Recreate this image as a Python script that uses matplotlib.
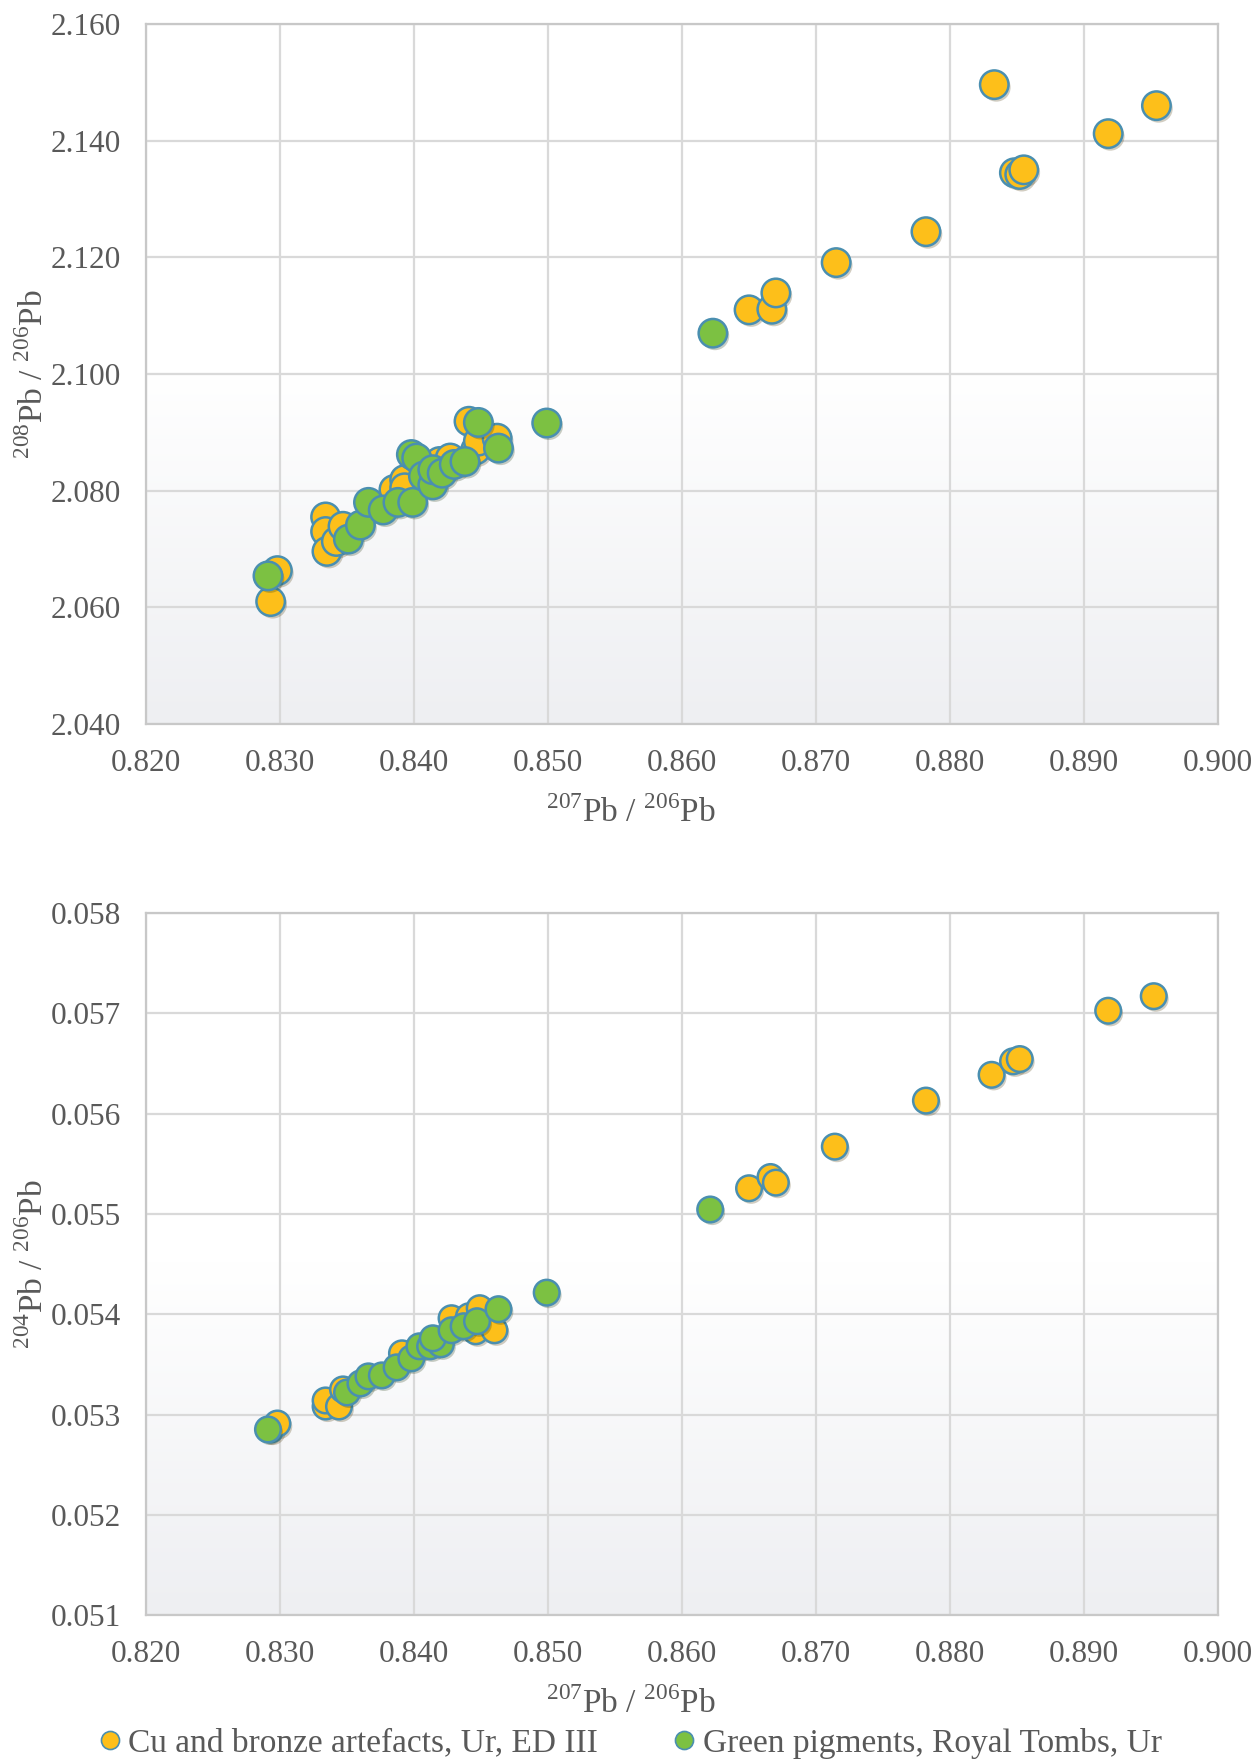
import numpy as np
import matplotlib
matplotlib.use("Agg")
import matplotlib.pyplot as plt
import matplotlib.patheffects as pe
from matplotlib.colors import LinearSegmentedColormap
from matplotlib.lines import Line2D

# Cu and bronze artefacts, Ur, ED III  (207Pb/206Pb, 208Pb/206Pb)
cu_x_top = [0.8293, 0.8298, 0.8334, 0.8334, 0.8335, 0.8342, 0.8347, 0.8385, 0.8393, 0.8393,
            0.8419, 0.8427, 0.8441, 0.8446, 0.8448, 0.8462, 0.8650, 0.8667, 0.8670, 0.8715,
            0.8782, 0.8833, 0.8848, 0.8852, 0.8855, 0.8918, 0.8954]
cu_y208 = [2.0610, 2.0663, 2.0755, 2.0730, 2.0696, 2.0713, 2.0739, 2.0802, 2.0819, 2.0805,
           2.0850, 2.0856, 2.0919, 2.0870, 2.0885, 2.0890, 2.1110, 2.1111, 2.1139, 2.1191,
           2.1244, 2.1496, 2.1345, 2.1342, 2.1350, 2.1412, 2.1460]

# Green pigments, Royal Tombs, Ur  (207Pb/206Pb, 208Pb/206Pb)
gp_x_top = [0.8291, 0.8351, 0.8360, 0.8366, 0.8377, 0.8388, 0.8399, 0.8398, 0.8402, 0.8407,
            0.8414, 0.8414, 0.8421, 0.8430, 0.8438, 0.8448, 0.8463, 0.8499, 0.8623]
gp_y208 = [2.0654, 2.0717, 2.0741, 2.0780, 2.0767, 2.0780, 2.0780, 2.0862, 2.0856, 2.0825,
           2.0810, 2.0836, 2.0830, 2.0845, 2.0850, 2.0917, 2.0873, 2.0916, 2.1070]

# (207Pb/206Pb, 204Pb/206Pb)
cu_x_bot = [0.8293, 0.8298, 0.8334, 0.8334, 0.8344, 0.8347, 0.8391, 0.8428, 0.8441, 0.8449,
            0.8446, 0.8460, 0.8650, 0.8666, 0.8670, 0.8714, 0.8782, 0.8831, 0.8847, 0.8852,
            0.8918, 0.8952]
cu_y204 = [0.05285, 0.05291, 0.05308, 0.05314, 0.05308, 0.05325, 0.05361, 0.05396, 0.05398, 0.05406,
           0.05383, 0.05384, 0.055256, 0.055368, 0.055312, 0.055671, 0.056130, 0.056387, 0.056522, 0.056544,
           0.057026, 0.057171]

gp_x_bot = [0.8291, 0.8350, 0.8360, 0.8366, 0.8376, 0.8387, 0.8398, 0.8404, 0.8412, 0.8420,
            0.8414, 0.8428, 0.8437, 0.8447, 0.8463, 0.8499, 0.8621]
gp_y204 = [0.052851, 0.05322, 0.05331, 0.05338, 0.05339, 0.05347, 0.05356, 0.05368, 0.05368, 0.05370,
           0.05376, 0.05384, 0.05388, 0.05393, 0.05405, 0.054215, 0.055044]

x_ticks = [0.820, 0.830, 0.840, 0.850, 0.860, 0.870, 0.880, 0.890, 0.900]
y208_ticks = [2.040, 2.060, 2.080, 2.100, 2.120, 2.140, 2.160]
y204_ticks = [0.051, 0.052, 0.053, 0.054, 0.055, 0.056, 0.057, 0.058]

labels = ["Cu and bronze artefacts, Ur, ED III", "Green pigments, Royal Tombs, Ur"]

yellow = "#FDBF1A"
green = "#7CC142"
edge = "#4A8FB0"
grey_txt = "#595959"

plt.rcParams['font.family'] = ['Liberation Serif', 'DejaVu Serif']
plt.rcParams['mathtext.fontset'] = 'custom'
plt.rcParams['mathtext.rm'] = 'Liberation Serif'

fig = plt.figure(figsize=(12.59, 17.63), dpi=100)
ax1 = fig.add_axes([0.1160, 0.5893, 0.8515, 0.3971])
ax2 = fig.add_axes([0.1160, 0.0839, 0.8515, 0.3982])

bg = LinearSegmentedColormap.from_list("bg", ["#EEEFF2", "#FFFFFF", "#FFFFFF"])
shadow = [pe.SimplePatchShadow(offset=(1.5, -2), alpha=0.25), pe.Normal()]


def style(ax, xt, yt, ylabel):
    grad = np.linspace(0, 1, 256).reshape(-1, 1)
    ax.imshow(grad, extent=[0, 1, 0, 1], transform=ax.transAxes, origin='lower',
              aspect='auto', cmap=bg, zorder=0)
    ax.set_xlim(xt[0], xt[-1])
    ax.set_ylim(yt[0], yt[-1])
    ax.set_xticks(xt)
    ax.set_yticks(yt)
    ax.set_xticklabels([f"{v:.3f}" for v in xt])
    ax.set_yticklabels([f"{v:.3f}" for v in yt])
    ax.grid(True, color="#D9D9D9", linewidth=1.6, zorder=1)
    ax.set_axisbelow(True)
    for s in ax.spines.values():
        s.set_color("#C8C8C8")
        s.set_linewidth(1.6)
    ax.tick_params(length=0, labelsize=22.5, colors=grey_txt, pad=18)
    ax.set_xlabel(r"$^{207}$Pb / $^{206}$Pb", fontsize=24, color=grey_txt)
    ax.set_ylabel(ylabel, fontsize=24, color=grey_txt)
    ax.xaxis.set_label_coords(0.452, -0.103)
    ax.yaxis.set_label_coords(-0.09, 0.5)


style(ax1, x_ticks, y208_ticks, r"$^{208}$Pb / $^{206}$Pb")
style(ax2, x_ticks, y204_ticks, r"$^{204}$Pb / $^{206}$Pb")

for ax, cx, cy, gx, gy, s in [(ax1, cu_x_top, cu_y208, gp_x_top, gp_y208, 420),
                              (ax2, cu_x_bot, cu_y204, gp_x_bot, gp_y204, 340)]:
    c1 = ax.scatter(cx, cy, s=s, c=yellow, edgecolors=edge, linewidths=1.8, zorder=3)
    c2 = ax.scatter(gx, gy, s=s, c=green, edgecolors=edge, linewidths=1.8, zorder=4)
    c1.set_path_effects(shadow)
    c2.set_path_effects(shadow)

handles = [Line2D([], [], linestyle='none', marker='o', markersize=13,
                  markerfacecolor=yellow, markeredgecolor=edge, markeredgewidth=1.2),
           Line2D([], [], linestyle='none', marker='o', markersize=13,
                  markerfacecolor=green, markeredgecolor=edge, markeredgewidth=1.2)]
fig.legend(handles, labels, loc='lower center', bbox_to_anchor=(0.497, -0.0145), ncol=2,
           frameon=False, fontsize=24, handletextpad=-0.05, handlelength=1.2,
           columnspacing=2.0, labelcolor=grey_txt)

fig.savefig("out.png", dpi=100)
